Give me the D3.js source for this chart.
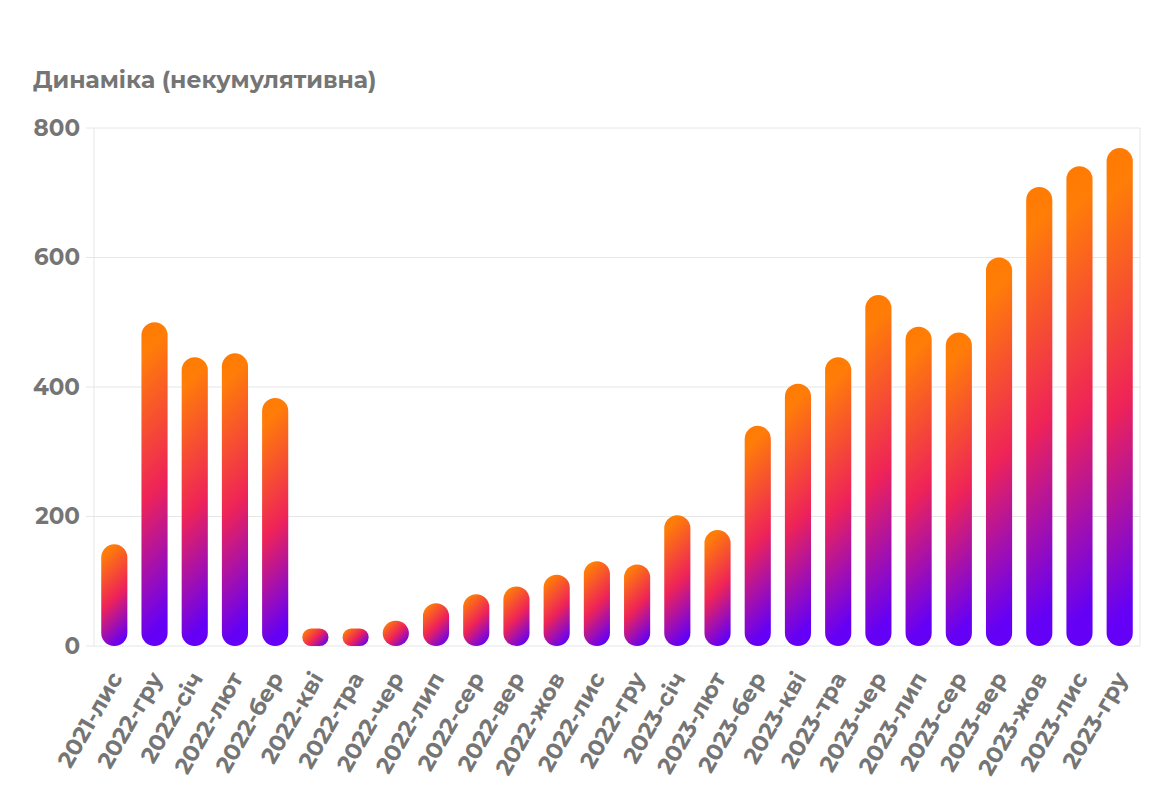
<!DOCTYPE html>
<html>
<head>
<meta charset="utf-8">
<script src="https://cdn.jsdelivr.net/npm/d3@7"></script>
<style>
  html, body { margin: 0; padding: 0; background: #ffffff; }
  svg { display: block; }
  text { font-family: "Montserrat", "DejaVu Sans", sans-serif; font-weight: bold; fill: #757575; }
</style>
</head>
<body>
<svg id="chart" width="1168" height="806"></svg>
<script>
const title = "Динаміка (некумулятивна)";
const categories = [
  "2021-лис", "2022-гру", "2022-січ", "2022-лют", "2022-бер", "2022-кві", "2022-тра",
  "2022-чер", "2022-лип", "2022-сер", "2022-вер", "2022-жов", "2022-лис", "2022-гру",
  "2023-січ", "2023-лют", "2023-бер", "2023-кві", "2023-тра", "2023-чер", "2023-лип",
  "2023-сер", "2023-вер", "2023-жов", "2023-лис", "2023-гру"
];
const values = [
  157, 500, 446, 452, 383, 27, 27,
  39, 66, 80, 92, 110, 131, 126,
  202, 179, 340, 405, 446, 542, 493,
  484, 600, 709, 741, 769
];
const yTicks = [0, 200, 400, 600, 800];
const gradientColors = ["#ff7a00", "#ff7d08", "#ee2358", "#6400f6", "#6400f6"];
const gradientOffsets = [0, 0.1, 0.52, 0.92, 1];

const svg = d3.select("#chart");
const pL = 94, pR = 1140, pT = 128, pB = 646;

const x = d3.scaleBand()
  .domain(d3.range(categories.length))
  .range([pL, pR])
  .paddingInner(0.35)
  .paddingOuter(0.18);

const y = d3.scaleLinear().domain([0, 800]).range([pB, pT]);

// title
svg.append("text")
  .attr("x", 33).attr("y", 88)
  .style("font-size", "23.5px")
  .text(title);

// grid
const grid = svg.append("g");
grid.selectAll("line.h")
  .data(yTicks)
  .join("line")
  .attr("x1", pL - 8).attr("x2", pR)
  .attr("y1", d => y(d)).attr("y2", d => y(d))
  .attr("stroke", "#e6e6e6").attr("stroke-width", 1);
grid.selectAll("line.v")
  .data([pL, pR])
  .join("line")
  .attr("x1", d => d).attr("x2", d => d)
  .attr("y1", pT).attr("y2", pB)
  .attr("stroke", "#e6e6e6").attr("stroke-width", 1);

// y axis labels
const yAxis = svg.append("g")
  .attr("transform", `translate(${pL - 8},0)`)
  .call(d3.axisLeft(y).tickValues(yTicks).tickSize(0).tickPadding(6));
yAxis.select(".domain").remove();
yAxis.selectAll("text")
  .style("font-size", "23px")
  .attr("fill", "#757575");

// gradients
const defs = svg.append("defs");
const bw = x.bandwidth();
values.forEach((v, i) => {
  const x0 = x(i), y0 = y(v), h = y(0) - y(v);
  const d = (bw + h) / 2;
  const g = defs.append("linearGradient")
    .attr("id", "grad" + i)
    .attr("gradientUnits", "userSpaceOnUse")
    .attr("x1", x0).attr("y1", y0)
    .attr("x2", x0 + d).attr("y2", y0 + d);
  gradientColors.forEach((c, k) => {
    g.append("stop").attr("offset", gradientOffsets[k]).attr("stop-color", c);
  });
});

// bars
svg.append("g")
  .selectAll("rect")
  .data(values)
  .join("rect")
  .attr("x", (d, i) => x(i))
  .attr("y", d => y(d))
  .attr("width", bw)
  .attr("height", d => y(0) - y(d))
  .attr("rx", d => Math.min(bw / 2, (y(0) - y(d)) / 2))
  .attr("ry", d => Math.min(bw / 2, (y(0) - y(d)) / 2))
  .attr("fill", (d, i) => `url(#grad${i})`);

// x axis labels
const xAxis = svg.append("g")
  .attr("transform", `translate(0,${pB})`)
  .call(d3.axisBottom(x).tickSize(0).tickFormat(i => categories[i]));
xAxis.select(".domain").remove();
xAxis.selectAll("text")
  .attr("x", 0).attr("y", 0).attr("dy", 0)
  .attr("text-anchor", "end")
  .attr("transform", "translate(9,32) rotate(-60)")
  .style("font-size", "23px")
  .attr("fill", "#757575");
</script>
</body>
</html>
